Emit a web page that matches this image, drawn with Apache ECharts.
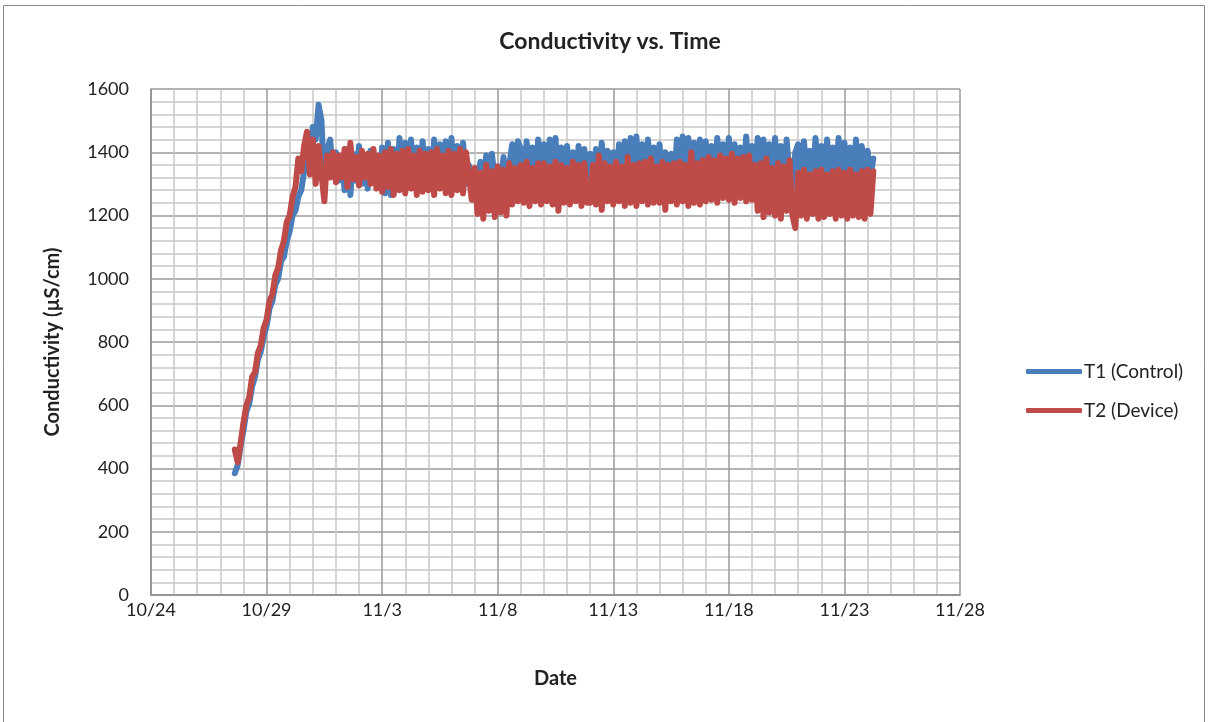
<!DOCTYPE html>
<html>
<head>
<meta charset="utf-8">
<script src="https://cdn.jsdelivr.net/npm/echarts@6/dist/echarts.min.js"></script>
<style>
html,body{margin:0;padding:0;background:#fff;}
#chart{width:1211px;height:722px;}
</style>
</head>
<body>
<div id="chart"></div>
<script>
// Time axis: days since 10/24 00:00; readings every 3 hours
var firstDay = 3.625;
var stepDays = 0.125;
var monthStarts = [{m:10, d:24, offset:0}, {m:11, d:1, offset:8}];
var xTicks = [0, 5, 10, 15, 20, 25, 30, 35];
var yTicks = [0, 200, 400, 600, 800, 1000, 1200, 1400, 1600];

// T1 (Control) conductivity, µS/cm
var t1Control = [
  385, 410, 470, 520, 580, 605, 660, 690, 745, 770, 820, 850, 905, 930, 980, 1000,
  1055, 1070, 1120, 1150, 1200, 1215, 1260, 1280, 1340, 1430, 1370, 1480, 1440, 1550, 1500, 1290, 1410,
  1440, 1330,
  1400, 1310, 1385, 1280, 1410, 1265, 1395, 1310,
  1420, 1300, 1390, 1285, 1405, 1320, 1380, 1290,
  1415, 1270, 1430, 1265, 1410, 1290, 1445, 1300,
  1430, 1310, 1440, 1300, 1415, 1320, 1435, 1305,
  1410, 1300, 1440, 1320, 1425, 1295, 1435, 1310,
  1445, 1305, 1420, 1315, 1430, 1300, 1360, 1290,
  1345, 1300, 1370, 1290, 1390, 1310, 1395, 1315,
  1355, 1300, 1385, 1310, 1360, 1425, 1310, 1435,
  1410, 1305, 1435, 1320, 1415, 1300, 1440, 1315,
  1425, 1310, 1440, 1300, 1445, 1310, 1415, 1320,
  1420, 1305, 1400, 1315, 1420, 1300, 1410, 1320,
  1395, 1300, 1410, 1320, 1430, 1305, 1405, 1310,
  1400, 1320, 1425, 1305, 1435, 1315, 1445, 1300,
  1450, 1310, 1425, 1300, 1440, 1320, 1415, 1305,
  1425, 1310, 1400, 1320, 1395, 1300, 1440, 1315,
  1450, 1305, 1445, 1320, 1430, 1300, 1440, 1315,
  1435, 1310, 1420, 1300, 1445, 1320, 1425, 1305,
  1445, 1310, 1425, 1320, 1415, 1300, 1450, 1315,
  1420, 1305, 1445, 1320, 1440, 1300, 1425, 1315,
  1445, 1310, 1420, 1300, 1440, 1320, 1290, 1400,
  1425, 1305, 1435, 1320, 1405, 1300, 1445, 1315,
  1420, 1310, 1440, 1300, 1415, 1320, 1445, 1305,
  1430, 1315, 1415, 1300, 1440, 1310, 1420, 1320,
  1405, 1320, 1380
];

// T2 (Device) conductivity, µS/cm
var t2Device = [
  460, 420, 480, 545, 600, 625, 690, 705, 765, 790, 845, 870, 930, 950, 1010, 1035,
  1090, 1120, 1180, 1200, 1260, 1290, 1380, 1340, 1420, 1465, 1330, 1440, 1300, 1420, 1330, 1245, 1390,
  1320, 1400,
  1305, 1390, 1320, 1410, 1290, 1430, 1315, 1385,
  1295, 1405, 1320, 1395, 1300, 1410, 1285, 1390,
  1275, 1400, 1290, 1410, 1265, 1395, 1280, 1405,
  1270, 1410, 1285, 1390, 1265, 1405, 1275, 1395,
  1280, 1400, 1265, 1410, 1285, 1390, 1270, 1405,
  1265, 1395, 1280, 1410, 1270, 1400, 1330, 1250,
  1350, 1205, 1335, 1190, 1360, 1215, 1340, 1195,
  1355, 1210, 1345, 1200, 1365, 1235, 1350, 1245,
  1360, 1240, 1370, 1230, 1350, 1245, 1365, 1235,
  1365, 1245, 1355, 1235, 1370, 1215, 1360, 1240,
  1350, 1235, 1370, 1245, 1360, 1230, 1365, 1240,
  1240, 1360, 1235, 1390, 1218, 1365, 1245, 1355,
  1235, 1370, 1245, 1355, 1230, 1385, 1240, 1360,
  1230, 1365, 1245, 1370, 1235, 1380, 1240, 1355,
  1240, 1370, 1218, 1360, 1245, 1365, 1235, 1370,
  1245, 1360, 1230, 1400, 1240, 1365, 1235, 1375,
  1245, 1385, 1250, 1375, 1240, 1390, 1255, 1380,
  1250, 1395, 1240, 1380, 1255, 1385, 1245, 1390,
  1250, 1360, 1215, 1365, 1195, 1380, 1210, 1350,
  1200, 1365, 1190, 1355, 1215, 1375, 1200, 1160,
  1335, 1200, 1345, 1190, 1330, 1205, 1340, 1190,
  1345, 1195, 1330, 1205, 1340, 1190, 1345, 1200,
  1335, 1190, 1345, 1200, 1330, 1195, 1340, 1190,
  1345, 1205, 1340
];

function toPairs(vals) {
  var out = [];
  for (var i = 0; i < vals.length; i++) out.push([firstDay + i * stepDays, vals[i]]);
  return out;
}
function dayLabel(v) {
  var ms = monthStarts[0];
  for (var i = 0; i < monthStarts.length; i++) if (v >= monthStarts[i].offset) ms = monthStarts[i];
  return ms.m + '/' + (ms.d + Math.round(v - ms.offset));
}

var FONT = 'Lato, "Open Sans", sans-serif';
var chart = echarts.init(document.getElementById('chart'), null, {renderer: 'canvas'});
chart.setOption({
  animation: false,
  backgroundColor: '#ffffff',
  graphic: [
    {type: 'rect', shape: {x: 3.5, y: 5.5, width: 1201, height: 740}, style: {fill: 'none', stroke: '#8a8a8a', lineWidth: 1}, z: 0},
    {type: 'text', x: 610, y: 42, style: {text: 'Conductivity vs. Time', font: 'bold 23px ' + FONT, fill: '#222', textAlign: 'center', textVerticalAlign: 'middle'}}
  ],
  grid: {left: 151, right: 251, top: 89, bottom: 127, containLabel: false},
  legend: {
    orient: 'vertical', left: 1021, top: 357, itemWidth: 56, itemHeight: 5, itemGap: 20,
    icon: 'roundRect',
    textStyle: {fontFamily: FONT, fontSize: 19, color: '#222', padding: [0, 0, 0, -3]},
    data: ['T1 (Control)', 'T2 (Device)']
  },
  xAxis: {
    type: 'value', min: xTicks[0], max: xTicks[xTicks.length - 1], interval: 5,
    name: 'Date', nameLocation: 'middle', nameGap: 74,
    nameTextStyle: {fontFamily: FONT, fontSize: 20, fontWeight: 'bold', color: '#222'},
    axisLine: {show: true, lineStyle: {color: '#8c8c8c', width: 1.5}},
    axisTick: {show: false},
    axisLabel: {fontFamily: FONT, fontSize: 18, color: '#222', margin: 6, formatter: dayLabel, showMaxLabel: true, showMinLabel: true},
    splitLine: {show: true, lineStyle: {color: '#9a9a9a', width: 1.5}},
    minorTick: {show: false, splitNumber: 5},
    minorSplitLine: {show: true, lineStyle: {color: '#c8c8c8', width: 1.5}}
  },
  yAxis: {
    type: 'value', min: yTicks[0], max: yTicks[yTicks.length - 1], interval: 200,
    name: 'Conductivity (µS/cm)', nameLocation: 'middle', nameGap: 88,
    nameTextStyle: {fontFamily: FONT, fontSize: 20, fontWeight: 'bold', color: '#222'},
    axisLine: {show: true, lineStyle: {color: '#8c8c8c', width: 1.5}},
    axisTick: {show: false},
    axisLabel: {fontFamily: FONT, fontSize: 18, color: '#222', margin: 22, formatter: function (v) { return String(v); }},
    splitLine: {show: true, lineStyle: {color: '#9a9a9a', width: 1.5}},
    minorTick: {show: false, splitNumber: 5},
    minorSplitLine: {show: true, lineStyle: {color: '#c8c8c8', width: 1.5}}
  },
  series: [
    {name: 'T1 (Control)', type: 'line', data: toPairs(t1Control), showSymbol: false, symbol: 'none',
     color: '#4a7ebb', lineStyle: {width: 6, color: '#4a7ebb', cap: 'round', join: 'round'}, sampling: null, z: 3},
    {name: 'T2 (Device)', type: 'line', data: toPairs(t2Device), showSymbol: false, symbol: 'none',
     color: '#be4b48', lineStyle: {width: 6, color: '#be4b48', cap: 'round', join: 'round'}, sampling: null, z: 4}
  ]
});
</script>
</body>
</html>
